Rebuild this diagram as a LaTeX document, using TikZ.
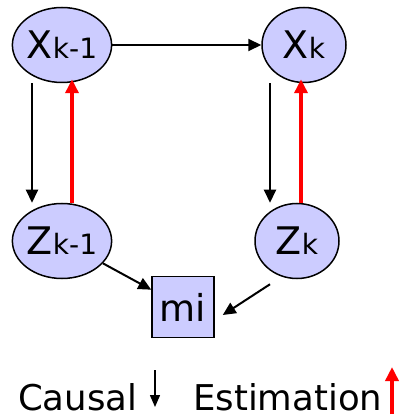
\documentclass[tikz,border=0pt]{standalone}
\usepackage{fontspec}
\setmainfont{DejaVu Sans}
\usetikzlibrary{arrows.meta,shapes.geometric}
\definecolor{NodeFill}{HTML}{CCCCFF}
\definecolor{EstRed}{HTML}{FF0000}
\newcommand{\varlbl}[2]{{\fontsize{38}{40}\selectfont #1}{\fontsize{28}{28}\selectfont #2}}

\begin{document}
\begin{tikzpicture}[x=1pt,y=-1pt,>={Triangle[length=13pt,width=12pt]}]
  \tikzstyle{state}=[ellipse,draw,line width=1.5pt,fill=NodeFill,minimum width=84pt,minimum height=75pt,inner sep=0pt]
  \tikzstyle{obs}=[draw,fill=NodeFill,line width=1.5pt,minimum width=62pt,minimum height=61pt,inner sep=0pt]
  \tikzstyle{causal}=[->,line width=2pt]
  \tikzstyle{est}=[-{Triangle[length=14pt,width=13pt]},line width=4pt,EstRed]
  \tikzstyle{legend}=[anchor=base west,inner sep=0pt,text depth=0pt,font=\fontsize{35.5}{36}\selectfont]
  \useasboundingbox (0,0) rectangle (409,419);
  % hidden states and measurements
  \node[state] (xa) at (62,45) {\varlbl{X}{k-1}};
  \node[state] (xb) at (304,45) {\varlbl{X}{k}};
  \node[state] (za) at (62,241) {\varlbl{Z}{k-1}};
  \node[state] (zb) at (297,241) {\varlbl{Z}{k}};
  \node[obs] (mi) at (183,307) {\fontsize{37}{37}\selectfont mi};
  % causal links
  \draw[causal] (xa) -- (xb);
  \draw[causal] ([xshift=-30pt]xa.south) -- ([xshift=-30pt]za.north);
  \draw[causal] ([xshift=-34pt]xb.south) -- ([xshift=-34pt]xb.south |- zb.north);
  \draw[causal] (za) -- (mi);
  \draw[causal] ([xshift=-27pt,yshift=-5pt]zb.south) -- ([xshift=8pt,yshift=-8pt]mi.east);
  % estimation links
  \draw[est] ([xshift=10pt]za.north) -- ([xshift=10pt,yshift=4pt]xa.south);
  \draw[est] ([xshift=4pt]zb.north) -- ([xshift=4pt,yshift=4pt]zb.north |- xb.south);
  % legend
  \node[legend] (lc) at (18,410) {Causal};
  \node[legend] (le) at (193,410) {Estimation};
  \coordinate (ca) at (155,370);
  \coordinate (cb) at (155,407);
  \coordinate (ea) at (392,414);
  \coordinate (eb) at (392,367);
  \draw[-{Triangle[length=12pt,width=10pt]},line width=1.5pt] (ca) -- (cb);
  \draw[est] (ea) -- (eb);
\end{tikzpicture}
\end{document}
